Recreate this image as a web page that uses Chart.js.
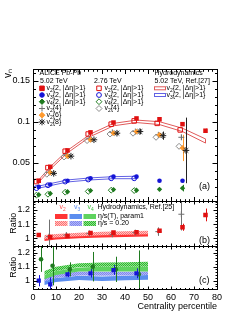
<!DOCTYPE html>
<html>
<head>
<meta charset="utf-8">
<script src="https://cdn.jsdelivr.net/npm/chart.js@4.4.1/dist/chart.umd.min.js"></script>
<style>
  html, body { margin: 0; padding: 0; background: #fff; }
  canvas { display: block; }
</style>
</head>
<body>
<canvas id="flowChart" width="246" height="319"></canvas>
<script>
// ---- data (centrality bin centres in %) ----
const cent = [2.5, 7.5, 15, 25, 35, 45, 55, 65, 75];

// panel (a): 5.02 TeV
const v22_502 = [0.028, 0.045, 0.065, 0.087, 0.099, 0.104, 0.103, 0.097, 0.089];
const v22_502Err = [0.0005, 0.0005, 0.0005, 0.0005, 0.0005, 0.0006, 0.001, 0.0015, 0.0025];
const v32_502 = [0.0205, 0.0235, 0.028, 0.031, 0.033, 0.033, 0.028, 0.028];
const v32_502Err = [0.0005, 0.0005, 0.0005, 0.0005, 0.0006, 0.0008, 0.001, 0.002];
const v42_502 = [0.011, 0.0125, 0.0145, 0.016, 0.0172, 0.0165, 0.0175, 0.019];
const v42_502Err = [0.0008, 0.001, 0.001, 0.001, 0.0012, 0.0012, 0.0015, 0.004];

const centMulti = [7.5, 15, 25, 35, 45, 55, 65];
const v24_502 = [0.038, 0.059, 0.079, 0.087, 0.088, 0.084, 0.081];
const v24_502Err = [0.001, 0.001, 0.001, 0.001, 0.001, 0.002, 0.003];
const v26_502 = [0.038, 0.058, 0.078, 0.086, 0.088, 0.084, 0.068];
const v26_502Err = [0.002, 0.001, 0.001, 0.001, 0.001, 0.002, 0.016];
const v28_502 = [0.037, 0.058, 0.078, 0.086, 0.088, 0.083, 0.065];
const v28_502Err = [0.002, 0.001, 0.001, 0.002, 0.003, 0.005, 0.04];

// panel (a): 2.76 TeV (drawn slightly left of the bin centre)
const cent276 = [1.5, 6.5, 14, 24, 34, 44, 54, 64];
const v22_276 = [0.027, 0.044, 0.064, 0.085, 0.097, 0.101, 0.098, 0.09];
const v32_276 = [0.019, 0.0225, 0.027, 0.0295, 0.031, 0.031];
const v42_276 = [0.0105, 0.0115, 0.014, 0.015, 0.0165, 0.016];
const cent276Multi = [6, 13.5, 23.5, 33.5, 43.5, 53.5, 63.5];
const v24_276 = [0.036, 0.057, 0.077, 0.085, 0.086, 0.081, 0.070];

// panel (a): hydrodynamics, 5.02 TeV, Ref.[27]
const hydroV2Lo = [0.026, 0.042, 0.062, 0.082, 0.095, 0.099, 0.0965, 0.088, 0.074];
const hydroV2Hi = [0.029, 0.045, 0.065, 0.085, 0.098, 0.102, 0.100, 0.092, 0.079];
const hydroV3Cent = [2.5, 7.5, 15, 25, 35, 45];
const hydroV3Lo = [0.019, 0.022, 0.0265, 0.029, 0.0305, 0.0305];
const hydroV3Hi = [0.0215, 0.0245, 0.029, 0.0315, 0.033, 0.0335];

// panel (b): ratios 5.02 / 2.76
const ratioV22 = [1.023, 1.009, 1.016, 1.037, 1.04, 1.042, 1.054, 1.078, 1.165];
const ratioV22Err = [0.01, 0.01, 0.008, 0.008, 0.008, 0.01, 0.01, 0.025, 0.045];
const centRatioV24 = [7, 14.5, 24.5, 34.5, 44.5, 54.5, 64.5];
const ratioV24 = [1.012, 1.023, 1.035, 1.028, 1.04, 1.047, 1.17];
const ratioV24Err = [0.12, 0.015, 0.01, 0.012, 0.015, 0.03, 0.115];

// panel (c): ratios 5.02 / 2.76
const centRatioV3 = [2.5, 7.5, 15, 25, 35, 45];
const ratioV3 = [1.0, 0.974, 1.046, 1.053, 1.076, 1.053];
const ratioV3Err = [0.04, 0.05, 0.02, 0.03, 0.035, 0.035];
const centRatioV4 = [3.5, 8.5, 16, 26, 36, 46];
const ratioV4 = [1.153, 1.107, 1.081, 1.1, 1.081, 1.046];
const ratioV4Err = [0.09, 0.14, 0.05, 0.105, 0.09, 0.17];

// panels (b),(c): hydrodynamics, Ref.[25]
const hydroRatioCent = [5, 10, 20, 30, 40, 50];
const hydroV2ParLo = [0.98, 0.992, 1.0, 1.005, 1.009, 1.012];
const hydroV2ParHi = [1.005, 1.015, 1.023, 1.028, 1.032, 1.035];
const hydroV2EtaLo = [0.995, 1.005, 1.015, 1.022, 1.025, 1.028];
const hydroV2EtaHi = [1.023, 1.03, 1.04, 1.046, 1.05, 1.054];
const hydroV3ParLo = [0.97, 0.99, 1.005, 0.998, 1.003, 1.007];
const hydroV3ParHi = [1.0, 1.02, 1.035, 1.03, 1.035, 1.04];
const hydroV3EtaLo = [0.995, 1.02, 1.038, 1.035, 1.038, 1.04];
const hydroV3EtaHi = [1.025, 1.05, 1.065, 1.064, 1.064, 1.065];
const hydroV4ParLo = [1.01, 1.04, 1.065, 1.066, 1.066, 1.066];
const hydroV4ParHi = [1.04, 1.07, 1.095, 1.1, 1.1, 1.1];
const hydroV4EtaLo = [1.04, 1.07, 1.098, 1.1, 1.1, 1.1];
const hydroV4EtaHi = [1.07, 1.1, 1.125, 1.13, 1.132, 1.136];

// axis ticks
const xTicks = [0, 10, 20, 30, 40, 50, 60, 70, 80];
const yTicksA = [0.05, 0.1, 0.15];
const yTicksB = [1, 1.1, 1.2];
const yTicksC = [1, 1.1, 1.2];

// ---- style ----
const FONT = "'Liberation Sans', Arial, Helvetica, sans-serif";
const RED = '#e01010', BLUE = '#1414d6', GREEN = '#1f7a1f', GREY = '#707070', ORANGE = '#ff9a2e', BLACK = '#222';

Chart.defaults.font.family = FONT;
Chart.defaults.color = '#000';

function pts(xs, ys) {
    return ys.map((y, i) => ({ x: xs[i], y: y }));
}

// closed outline: along the upper edge, back along the lower edge
function band(xs, lo, hi) {
    const p = xs.map((x, i) => ({ x: x, y: hi[i] }));
    for (let i = xs.length - 1; i >= 0; i--) p.push({ x: xs[i], y: lo[i] });
    p.push({ x: xs[0], y: hi[0] });
    return p;
}

function hatch(dark, light) {
    const c = document.createElement('canvas');
    c.width = 2; c.height = 2;
    const g = c.getContext('2d');
    g.fillStyle = light; g.fillRect(0, 0, 2, 2);
    g.fillStyle = dark; g.fillRect(0, 0, 1, 1); g.fillRect(1, 1, 1, 1);
    return g.createPattern(c, 'repeat');
}

function markers(label, xs, ys, errs, axis, style, color, radius, filled) {
    return {
        label: label, data: pts(xs, ys), errors: errs, yAxisID: axis, marker: true, order: 0,
        pointStyle: style, pointRadius: radius, pointHoverRadius: radius,
        pointBorderWidth: filled ? 0 : 1, borderColor: color,
        pointBackgroundColor: filled ? color : 'rgba(0,0,0,0)', pointBorderColor: color,
        showLine: false
    };
}

function outline(label, xs, lo, hi, axis, color) {
    return {
        label: label, data: band(xs, lo, hi), yAxisID: axis, order: 1,
        showLine: true, fill: false, borderColor: color, borderWidth: 1,
        pointRadius: 0, tension: 0
    };
}

function filledBand(label, xs, lo, hi, axis, fillStyle) {
    return {
        label: label, data: band(xs, lo, hi), yAxisID: axis, order: 2,
        showLine: true, fill: 'shape', backgroundColor: fillStyle, borderWidth: 0,
        borderColor: 'rgba(0,0,0,0)', pointRadius: 0, tension: 0
    };
}

const redSolid = '#ff3434', blueSolid = '#5b8def', greenSolid = '#5fd35f';
const redHatch = hatch('#ff7070', '#ffc4c4');
const blueHatch = hatch('#7f86ee', '#b3b8f7');
const greenHatch = hatch('#2fb82f', '#8ee08e');

const datasets = [
    // panel (a)
    markers('v2{2} 5.02', cent, v22_502, v22_502Err, 'yA', 'rect', RED, 3.2, true),
    markers('v3{2} 5.02', cent, v32_502, v32_502Err, 'yA', 'circle', BLUE, 2.3, true),
    markers('v4{2} 5.02', cent, v42_502, v42_502Err, 'yA', 'rectRot', GREEN, 2.7, true),
    markers('v2{8} 5.02', centMulti.map(c => c + 1.5), v28_502, v28_502Err, 'yA', 'star', BLACK, 3.3, false),
    markers('v2{6} 5.02', centMulti, v26_502, v26_502Err, 'yA', 'rectRot', ORANGE, 2.9, true),
    markers('v2{4} 5.02', centMulti.map(c => c - 0.5), v24_502, v24_502Err, 'yA', 'cross', GREY, 3, false),
    markers('v2{2} 2.76', cent276, v22_276, null, 'yA', 'rect', RED, 3.2, false),
    markers('v3{2} 2.76', cent276, v32_276, null, 'yA', 'circle', BLUE, 2.4, false),
    markers('v4{2} 2.76', cent276, v42_276, null, 'yA', 'rectRot', GREEN, 2.9, false),
    markers('v2{4} 2.76', cent276Multi, v24_276, null, 'yA', 'rectRot', '#8a8a8a', 3, false),
    outline('hydro v2', cent, hydroV2Lo, hydroV2Hi, 'yA', '#e05a5a'),
    outline('hydro v3', hydroV3Cent, hydroV3Lo, hydroV3Hi, 'yA', '#6262e4'),
    // panel (b)
    markers('ratio v2{2}', cent, ratioV22, ratioV22Err, 'yB', 'rect', RED, 3.2, true),
    markers('ratio v2{4}', centRatioV24, ratioV24, ratioV24Err, 'yB', 'cross', GREY, 3, false),
    filledBand('hydro v2 eta/s=0.20', hydroRatioCent, hydroV2EtaLo, hydroV2EtaHi, 'yB', redHatch),
    filledBand('hydro v2 param1', hydroRatioCent, hydroV2ParLo, hydroV2ParHi, 'yB', redSolid),
    // panel (c)
    markers('ratio v3{2}', centRatioV3, ratioV3, ratioV3Err, 'yC', 'rect', BLUE, 3, true),
    markers('ratio v4{2}', centRatioV4, ratioV4, ratioV4Err, 'yC', 'circle', GREEN, 2.3, true),
    filledBand('hydro v4 eta/s=0.20', hydroRatioCent, hydroV4EtaLo, hydroV4EtaHi, 'yC', greenHatch),
    filledBand('hydro v4 param1', hydroRatioCent, hydroV4ParLo, hydroV4ParHi, 'yC', greenSolid),
    filledBand('hydro v3 eta/s=0.20', hydroRatioCent, hydroV3EtaLo, hydroV3EtaHi, 'yC', blueHatch),
    filledBand('hydro v3 param1', hydroRatioCent, hydroV3ParLo, hydroV3ParHi, 'yC', blueSolid)
];

// per panel tick settings (ROOT style: ticks inside, on all four sides)
const panels = [
    { id: 'yA', major: yTicksA, minor: 0.01, yMaj: 5, yMin: 2.5, xMaj: 4.5, xMin: 2.3 },
    { id: 'yB', major: yTicksB, minor: 0.02, yMaj: 4, yMin: 2, xMaj: 3, xMin: 1.5 },
    { id: 'yC', major: yTicksC, minor: 0.02, yMaj: 4, yMin: 2, xMaj: 3, xMin: 1.5 }
];

function drawErrors(chart) {
    const ctx = chart.ctx;
    const area = chart.chartArea;
    chart.data.datasets.forEach((ds, i) => {
        if (!ds.errors) return;
        const ys = chart.scales[ds.yAxisID];
        const meta = chart.getDatasetMeta(i);
        ctx.save();
        ctx.beginPath();
        ctx.rect(area.left, ys.top, area.right - area.left, ys.bottom - ys.top);
        ctx.clip();
        ctx.strokeStyle = ds.borderColor;
        ctx.lineWidth = 1;
        meta.data.forEach((pt, j) => {
            const e = ds.errors[j];
            if (!e) return;
            const v = ds.data[j].y;
            const x = Math.round(pt.x) + 0.5;
            ctx.beginPath();
            ctx.moveTo(x, ys.getPixelForValue(v - e));
            ctx.lineTo(x, ys.getPixelForValue(v + e));
            ctx.stroke();
        });
        ctx.restore();
    });
}

const errorBars = {
    id: 'errorBars',
    beforeDatasetsDraw(chart) { chart.$errDone = false; },
    beforeDatasetDraw(chart, args) {
        if (chart.$errDone || !chart.data.datasets[args.index].marker) return;
        chart.$errDone = true;
        drawErrors(chart);
    }
};

const frameTicks = {
    id: 'frameTicks',
    afterDatasetsDraw(chart) {
        const ctx = chart.ctx;
        const xs = chart.scales.x;
        const l = Math.round(chart.chartArea.left) + 0.5;
        const r = Math.round(chart.chartArea.right) + 0.5;
        ctx.save();
        ctx.strokeStyle = '#000';
        ctx.lineWidth = 1;
        panels.forEach(p => {
            const s = chart.scales[p.id];
            const t = Math.round(s.top) + 0.5, b = Math.round(s.bottom) + 0.5;
            ctx.strokeRect(l, t, r - l, b - t);
            ctx.beginPath();
            // y ticks
            for (let v = Math.ceil(s.min / p.minor) * p.minor; v <= s.max + 1e-9; v += p.minor) {
                const isMaj = p.major.some(m => Math.abs(m - v) < 1e-6);
                const len = isMaj ? p.yMaj : p.yMin;
                const y = Math.round(s.getPixelForValue(v)) + 0.5;
                ctx.moveTo(l, y); ctx.lineTo(l + len, y);
                ctx.moveTo(r, y); ctx.lineTo(r - len, y);
            }
            // x ticks
            for (let v = 0; v <= 80; v += 2) {
                const len = v % 10 === 0 ? p.xMaj : p.xMin;
                const x = Math.round(xs.getPixelForValue(v)) + 0.5;
                ctx.moveTo(x, b); ctx.lineTo(x, b - len);
                ctx.moveTo(x, t); ctx.lineTo(x, t + len);
            }
            ctx.stroke();
        });
        ctx.restore();
    }
};

// text with subscripts: parts starting with '_' are subscripts
function rich(ctx, x, y, parts, size, color) {
    ctx.fillStyle = color;
    ctx.textBaseline = 'middle';
    ctx.textAlign = 'left';
    parts.forEach(p => {
        const sub = p[0] === '_';
        const t = sub ? p.slice(1) : p;
        ctx.font = (sub ? size * 0.7 : size) + 'px ' + FONT;
        ctx.fillText(t, x, sub ? y + size * 0.32 : y);
        x += ctx.measureText(t).width;
    });
}

function mark(ctx, ds, x, y) {
    ctx.save();
    ctx.fillStyle = ds.pointBackgroundColor;
    ctx.strokeStyle = ds.pointBorderColor;
    ctx.lineWidth = ds.pointBorderWidth || 1;
    Chart.helpers.drawPoint(ctx, { pointStyle: ds.pointStyle, radius: ds.pointRadius, rotation: 0, borderWidth: ctx.lineWidth }, x, y);
    ctx.restore();
}

const legends = {
    id: 'legends',
    afterDraw(chart) {
        const ctx = chart.ctx;
        const byLabel = l => datasets.find(d => d.label === l);
        const fs = 7;
        ctx.save();
        // panel (a)
        rich(ctx, 39.5, 73.5, ['ALICE Pb-Pb'], fs, '#000');
        rich(ctx, 40, 81, ['5.02 TeV'], fs, '#000');
        rich(ctx, 94, 81, ['2.76 TeV'], fs, '#000');
        rich(ctx, 154.5, 73.5, ['Hydrodynamics'], fs, '#000');
        rich(ctx, 154.5, 81, ['5.02 TeV, Ref.[27]'], fs, '#000');
        const rows = [88.3, 95, 101.7, 108.5, 115.2, 122];
        const left = [
            ['v2{2} 5.02', ['v', '_2', '{2, |Δη|>1}']],
            ['v3{2} 5.02', ['v', '_3', '{2, |Δη|>1}']],
            ['v4{2} 5.02', ['v', '_4', '{2, |Δη|>1}']],
            ['v2{4} 5.02', ['v', '_2', '{4}']],
            ['v2{6} 5.02', ['v', '_2', '{6}']],
            ['v2{8} 5.02', ['v', '_2', '{8}']]
        ];
        left.forEach((e, i) => {
            mark(ctx, byLabel(e[0]), 42, rows[i]);
            rich(ctx, 46.5, rows[i], e[1], fs, '#000');
        });
        const mid = [
            ['v2{2} 2.76', ['v', '_2', '{2, |Δη|>1}']],
            ['v3{2} 2.76', ['v', '_3', '{2, |Δη|>1}']],
            ['v4{2} 2.76', ['v', '_4', '{2, |Δη|>1}']],
            ['v2{4} 2.76', ['v', '_2', '{4}']]
        ];
        mid.forEach((e, i) => {
            mark(ctx, byLabel(e[0]), 99, rows[i]);
            rich(ctx, 104.5, rows[i], e[1], fs, '#000');
        });
        [['#e05a5a', '_2'], ['#6262e4', '_3']].forEach((e, i) => {
            ctx.strokeStyle = e[0];
            ctx.lineWidth = 1;
            ctx.strokeRect(154.5, rows[i] - 1.5, 11, 3);
            rich(ctx, 166.5, rows[i], ['v', e[1], '{2, |Δη|>1}'], fs, '#000');
        });
        // panel (b) hydro legend
        rich(ctx, 59.5, 207.5, ['v', '_2'], fs, '#ff5050');
        rich(ctx, 74, 207.5, ['v', '_3'], fs, '#5b8cf0');
        rich(ctx, 87.5, 207.5, ['v', '_4'], fs, '#3cbf3c');
        rich(ctx, 97.5, 207, ['Hydrodynamics, Ref.[25]'], fs, '#000');
        const sw = [[55, redSolid, redHatch], [69.5, blueSolid, blueHatch], [83.5, greenSolid, greenHatch]];
        sw.forEach(s => {
            ctx.fillStyle = s[1]; ctx.fillRect(s[0], 214, 12.5, 5);
            ctx.fillStyle = s[2]; ctx.fillRect(s[0], 221, 12.5, 5);
        });
        rich(ctx, 98, 216, ['η/s(T), param1'], fs, '#000');
        rich(ctx, 98, 223.5, ['η/s = 0.20'], fs, '#000');
        // panel labels
        rich(ctx, 199, 186.5, ['(a)'], 9, '#000');
        rich(ctx, 199, 241, ['(b)'], 9, '#000');
        rich(ctx, 199, 281, ['(c)'], 9, '#000');
        ctx.restore();
    }
};

function yScale(min, max, ticks, weight, stackWeight, title, titleSize, titlePad, align) {
    return {
        type: 'linear', position: 'left', stack: 'panels', stackWeight: stackWeight, weight: weight,
        min: min, max: max,
        afterBuildTicks: s => { s.ticks = ticks.map(v => ({ value: v })); },
        afterFit: s => { s.width = 33; },
        grid: { display: false, drawTicks: false },
        border: { display: false },
        ticks: { padding: 3, font: { size: 9 }, color: '#000', autoSkip: false, callback: v => String(v) },
        title: { display: true, text: title, align: align, font: { size: titleSize }, padding: { top: titlePad, bottom: 0 }, color: '#000' }
    };
}

new Chart(document.getElementById('flowChart'), {
    type: 'scatter',
    data: { datasets: datasets },
    options: {
        responsive: false,
        animation: false,
        events: [],
        layout: { padding: { top: 69, right: 29, left: 0, bottom: 0 } },
        plugins: { legend: { display: false }, tooltip: { enabled: false } },
        scales: {
            x: {
                type: 'linear', min: 0, max: 80,
                afterBuildTicks: s => { s.ticks = xTicks.map(v => ({ value: v })); },
                afterFit: s => { s.height = 30; },
                grid: { display: false, drawTicks: false },
                border: { display: false },
                ticks: { padding: 3, font: { size: 9 }, color: '#000', autoSkip: false, maxRotation: 0 },
                title: { display: true, text: 'Centrality percentile', align: 'end', font: { size: 9 }, padding: { top: 0, bottom: 7.5 }, color: '#000' }
            },
            yA: yScale(0.0033, 0.1643, yTicksA, 3, 132, 'vₙ', 10, 2.5, 'end'),
            yB: yScale(0.949, 1.2636, yTicksB, 2, 44.5, 'Ratio', 9, 8, 'center'),
            yC: yScale(0.941, 1.251, yTicksC, 1, 43.5, 'Ratio', 9, 8, 'center')
        }
    },
    plugins: [errorBars, frameTicks, legends]
});
</script>
</body>
</html>
